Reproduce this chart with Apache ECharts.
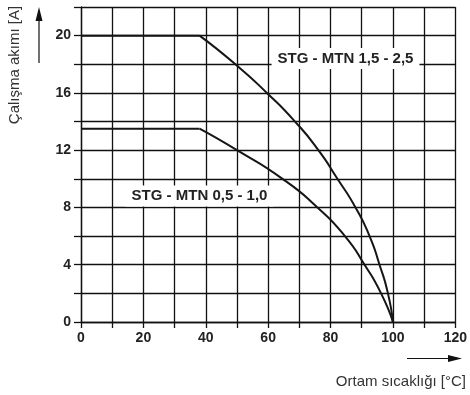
<!DOCTYPE html>
<html><head><meta charset="utf-8">
<script src="https://cdn.jsdelivr.net/npm/echarts@6/dist/echarts.min.js"></script>
<style>html,body{margin:0;padding:0;background:#fff}#c{width:470px;height:395px}</style>
</head><body><div id="c"></div>
<script>
// Data
const xTickLabels = [0, 20, 40, 60, 80, 100, 120];
const yTickLabels = [0, 4, 8, 12, 16, 20];
const tempHigh    = [0, 38, 49.5, 59.6, 68.6, 76.1, 82.2, 88, 92.5, 95.7, 98.4, 100];
const currentHigh = [20, 20, 18, 16, 14, 12, 10, 8, 6, 4, 2, 0];
const tempLow     = [0, 38, 50, 64.6, 75.8, 84.6, 90.9, 96.2, 100];
const currentLow  = [13.5, 13.5, 12, 10, 8, 6, 4, 2, 0];
const seriesNames = ['STG - MTN 1,5 - 2,5', 'STG - MTN 0,5 - 1,0'];
const xName = 'Ortam sıcaklığı [°C]';
const yName = 'Çalışma akımı [A]';

const FONT = 'Liberation Sans, Arial, sans-serif';
const LINE = '#151515';
const GRIDC = '#111';

function pairs(xs, ys, from, to) {
  const out = [];
  for (let i = from; i < to; i++) out.push([xs[i], ys[i]]);
  return out;
}

function curveSeries(name, xs, ys, labelCoord) {
  return [
    { name: name, type: 'line', data: pairs(xs, ys, 0, 2), smooth: false,
      symbol: 'none', lineStyle: { color: LINE, width: 2 }, z: 3 },
    { name: name, type: 'line', data: pairs(xs, ys, 1, xs.length), smooth: 0.6,
      symbol: 'none', lineStyle: { color: LINE, width: 2 }, z: 3,
      markPoint: {
        symbol: 'rect', symbolSize: 1, itemStyle: { color: 'rgba(0,0,0,0)' },
        data: [{ coord: labelCoord, value: name }],
        label: { show: true, position: 'inside', formatter: name,
          fontFamily: FONT, fontSize: 15, fontWeight: 'bold', color: '#222',
          backgroundColor: '#fff', padding: [3, 6] }
      } }
  ];
}

const chart = echarts.init(document.getElementById('c'), null, { renderer: 'canvas' });
chart.setOption({
  animation: false,
  backgroundColor: '#fff',
  grid: { left: 81, right: 12, top: 7, bottom: 73, containLabel: false },
  xAxis: {
    type: 'value', min: 0, max: 120, interval: 10,
    axisLine: { show: true, lineStyle: { color: '#111', width: 1.3 } },
    axisTick: { show: true, length: 6, lineStyle: { color: GRIDC, width: 1.3, opacity: 1 } },
    axisLabel: { margin: 9, fontFamily: FONT, fontSize: 14, fontWeight: 'bold', color: '#222',
      formatter: v => (xTickLabels.indexOf(v) >= 0 ? String(v) : '') },
    splitLine: { show: true, lineStyle: { color: GRIDC, width: 1.3, opacity: 1 } }
  },
  yAxis: {
    type: 'value', min: 0, max: 22, interval: 2,
    axisLine: { show: true, lineStyle: { color: '#111', width: 1.3 } },
    axisTick: { show: true, length: 7, lineStyle: { color: GRIDC, width: 1.3, opacity: 1 } },
    axisLabel: { margin: 10, fontFamily: FONT, fontSize: 14, fontWeight: 'bold', color: '#222',
      formatter: v => (yTickLabels.indexOf(v) >= 0 ? String(v) : '') },
    splitLine: { show: true, lineStyle: { color: GRIDC, width: 1.3, opacity: 1 } }
  },
  series: [].concat(
    curveSeries(seriesNames[0], tempHigh, currentHigh, [84.8, 18.4]),
    curveSeries(seriesNames[1], tempLow, currentLow, [38, 8.8])
  ),
  graphic: [
    { type: 'text', x: 15, y: 65, rotation: Math.PI / 2,
      style: { text: yName, font: '15px ' + FONT, fill: '#333', align: 'center', verticalAlign: 'middle' } },
    { type: 'line', shape: { x1: 39, y1: 63, x2: 39, y2: 18 }, style: { stroke: '#111', lineWidth: 1.2 } },
    { type: 'polygon', shape: { points: [[39, 7], [35.5, 21], [42.5, 21]] }, style: { fill: '#111' } },
    { type: 'text', x: 466, y: 382,
      style: { text: xName, font: '15px ' + FONT, fill: '#333', align: 'right', verticalAlign: 'middle' } },
    { type: 'line', shape: { x1: 407, y1: 358.5, x2: 450, y2: 358.5 }, style: { stroke: '#111', lineWidth: 1.2 } },
    { type: 'polygon', shape: { points: [[462, 358.5], [448, 355], [448, 362]] }, style: { fill: '#111' } }
  ]
});
</script>
</body></html>
